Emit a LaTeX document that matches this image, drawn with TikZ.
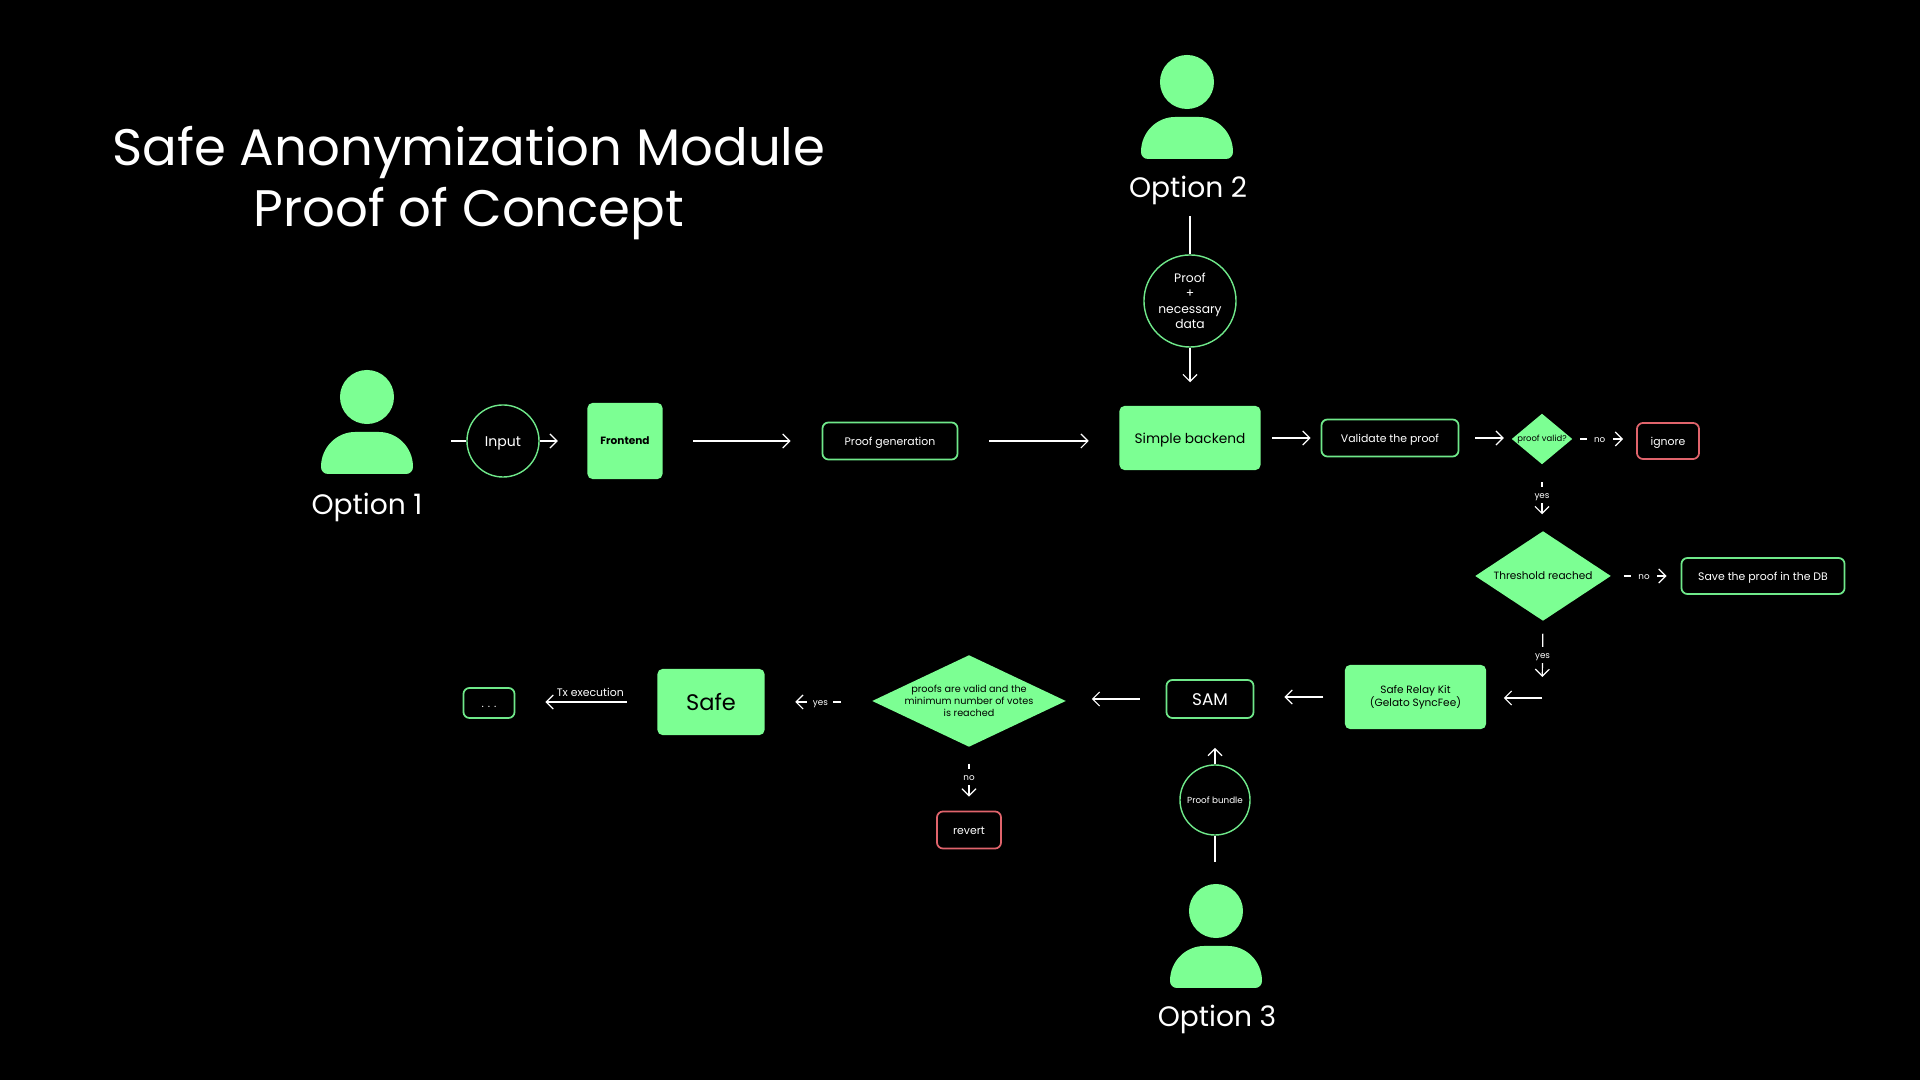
\documentclass[tikz,border=0pt]{standalone}
\usepackage{fontspec}
\setmainfont{Poppins}
\usetikzlibrary{arrows.meta}
\usetikzlibrary{shapes.geometric}

\definecolor{safegreen}{HTML}{7CFF93}
\definecolor{edgegreen}{HTML}{6FE88A}
\definecolor{edgered}{HTML}{E0646C}

\newcommand{\txt}[1]{\fontsize{#1}{#1}\selectfont\baselineskip=1.25\baselineskip}

\tikzset{
  lowered/.style={text height=#1,text depth=0.02cm},
  plainline/.style={draw=white,line width=0.34pt},
  flow/.style={plainline,-{Straight Barb[length=0.07cm,width=0.14cm,line width=0.34pt]}},
  flowlabel/.style={fill=black,text=white,inner sep=0pt,minimum width=0.26cm,minimum height=0.16cm,font=\txt{2.5},lowered=0.09cm},
  solidbox/.style={fill=safegreen,text=black,rounded corners=0.05cm,inner sep=0pt,align=center},
  linebox/.style={draw=edgegreen,fill=black,text=white,line width=0.5pt,rounded corners=0.06cm,inner sep=0pt,align=center,font=\txt{3.1},lowered=0.11cm},
  redbox/.style={linebox,draw=edgered},
  ringnode/.style={circle,draw=edgegreen,fill=black,text=white,line width=0.4pt,inner sep=0pt,align=center},
  decision/.style={diamond,fill=safegreen,inner sep=0pt,aspect=1.5},
  decisiontext/.style={text=black,align=center,inner sep=0pt},
  head/.style={circle,fill=safegreen,inner sep=0pt,minimum size=0.54cm},
  optionlabel/.style={text=white,inner sep=0pt,font=\txt{8}},
  userbody/.pic={
    \fill[safegreen] (-46,70) .. controls (-46,50) and (-30,35) .. (-12,35) -- (12,35)
      .. controls (30,35) and (46,50) .. (46,70) .. controls (46,74) and (43,77) .. (39,77)
      -- (-39,77) .. controls (-43,77) and (-46,74) .. (-46,70) -- cycle;
  }
}

\begin{document}
\begin{tikzpicture}[x=0.01cm,y=-0.01cm]

    % page
    \fill[black] (0,0) rectangle (1920,1080);
    \useasboundingbox (0,0) rectangle (1920,1080);

    % title
    \node[text=white,align=center,inner sep=0pt,font=\fontsize{14.6}{17.3}\selectfont] (title) at (469,183) {Safe Anonymization Module\\Proof of Concept};

    % users
    \node[head] (user1) at (367,397) {};
    \pic at (user1) {userbody};
    \node[optionlabel] (option1) at (367,507) {Option 1};

    \node[head] (user2) at (1187,82) {};
    \pic at (user2) {userbody};
    \node[optionlabel] (option2) at (1188,190) {Option 2};

    \node[head] (user3) at (1216,911) {};
    \pic at (user3) {userbody};
    \node[optionlabel] (option3) at (1217,1019) {Option 3};

    % first row
    \node[ringnode,minimum size=0.72cm,font=\txt{4},lowered=0.14cm] (input) at (503,441) {Input};
    \node[solidbox,minimum width=0.75cm,minimum height=0.76cm,font=\txt{3}\bfseries] (frontend) at (625,441) {Frontend};
    \node[linebox,minimum width=1.35cm,minimum height=0.37cm] (proofgen) at (890,441) {Proof generation};
    \node[solidbox,minimum width=1.41cm,minimum height=0.64cm,font=\txt{3.9},lowered=0.14cm] (backend) at (1190,438) {Simple backend};
    \node[linebox,minimum width=1.37cm,minimum height=0.37cm] (validate) at (1390,438) {Validate the proof};
    \node[decision,minimum width=0.61cm,minimum height=0.51cm,label={[decisiontext,font=\txt{2.4}]center:proof valid?}] (valid) at (1542,439) {};
    \node[redbox,minimum width=0.62cm,minimum height=0.36cm] (ignore) at (1668,441) {ignore};
    \node[ringnode,minimum size=0.92cm,font=\txt{3.5}] (data) at (1190,301) {Proof\\+\\necessary\\data};

    % right column
    \node[decision,minimum width=1.36cm,minimum height=0.90cm,label={[decisiontext,font=\txt{3}]center:Threshold reached}] (threshold) at (1543,576) {};
    \node[linebox,minimum width=1.63cm,minimum height=0.36cm] (savedb) at (1763,576) {Save the proof in the DB};
    \coordinate (relayin) at (1542,698);

    % last row
    \node[solidbox,minimum width=1.41cm,minimum height=0.64cm,font=\txt{3}] (relay) at (1415.5,697) {Safe Relay Kit\\(Gelato SyncFee)};
    \node[linebox,minimum width=0.87cm,minimum height=0.38cm,font=\txt{4.8},lowered=0.15cm] (sam) at (1210,699) {SAM};
    \node[decision,minimum width=1.94cm,minimum height=0.92cm,label={[decisiontext,font=\txt{2.75}]center:proofs are valid and the\\minimum number of votes\\is reached}] (votes) at (969,701) {};
    \node[solidbox,minimum width=1.07cm,minimum height=0.66cm,font=\txt{6.4}] (safe) at (711,702) {Safe};
    \node[linebox,minimum width=0.51cm,minimum height=0.30cm] (more) at (489,703) {. . .};
    \node[redbox,minimum width=0.64cm,minimum height=0.37cm] (revert) at (969,830) {revert};
    \node[ringnode,minimum size=0.70cm,font=\txt{2.5}] (bundle) at (1215,800) {Proof bundle};

    % connectors of the first row
    \coordinate (inputstart) at (451,441);
    \draw[plainline] (inputstart) -- (input.west);
    \draw[flow,shorten >=0.29cm] (input.east) -- (input.east -| frontend.west);
    \draw[flow,shorten <=0.30cm,shorten >=0.31cm] (frontend.east) -- (proofgen.west);
    \draw[flow,shorten <=0.31cm,shorten >=0.30cm] (proofgen.east) -- (proofgen.east -| backend.west);
    \draw[flow,shorten <=0.11cm,shorten >=0.10cm] (backend.east) -- (validate.west);
    \draw[flow,shorten <=0.16cm,shorten >=0.07cm] (validate.east) -- (validate.east -| valid.west);
    \draw[flow,shorten <=0.07cm,shorten >=0.13cm] (valid.east) -- node[flowlabel,pos=0.42] {no} (valid.east -| ignore.west);

    % connectors of option 2
    \draw[plainline,shorten <=0.11cm] (data.north |- option2.south) -- (data.north);
    \draw[flow,shorten >=0.23cm] (data.south) -- (data.south |- backend.north);

    % connectors of the right column
    \draw[flow,shorten <=0.17cm,shorten >=0.16cm] (valid.south) -- node[flowlabel,pos=0.46] {yes} (valid.south |- threshold.north);
    \draw[flow,shorten <=0.12cm,shorten >=0.14cm] (threshold.east) -- node[flowlabel,pos=0.47] {no} (savedb.west);
    \draw[flow,shorten <=0.12cm,shorten >=0.21cm] (threshold.south) -- node[flowlabel,pos=0.44] {yes} (relayin);
    \draw[flow,shorten >=0.17cm] (relayin) -- (relayin -| relay.east);

    % connectors of the last row
    \draw[flow,shorten <=0.21cm,shorten >=0.30cm] (relay.west) -- (relay.west -| sam.east);
    \draw[flow,shorten <=0.26cm,shorten >=0.25cm] (sam.west) -- (sam.west -| votes.east);
    \draw[flow,shorten <=0.30cm,shorten >=0.30cm] (votes.west |- safe.east) -- node[flowlabel,pos=0.48] {yes} (safe.east);
    \draw[flow,shorten <=0.30cm,shorten >=0.30cm] (safe.west) -- node[text=white,inner sep=0pt,pos=0.47,above=0.05cm,font=\txt{3.1}] {Tx execution} (safe.west -| more.east);
    \draw[flow,shorten <=0.16cm,shorten >=0.14cm] (votes.south) -- node[flowlabel,pos=0.46] {no} (revert.north);

    % connectors of option 3
    \draw[flow,shorten >=0.29cm] (bundle.north) -- (bundle.north |- sam.south);
    \draw[plainline,shorten >=0.21cm] (bundle.south) -- (bundle.south |- user3.north);

\end{tikzpicture}
\end{document}
